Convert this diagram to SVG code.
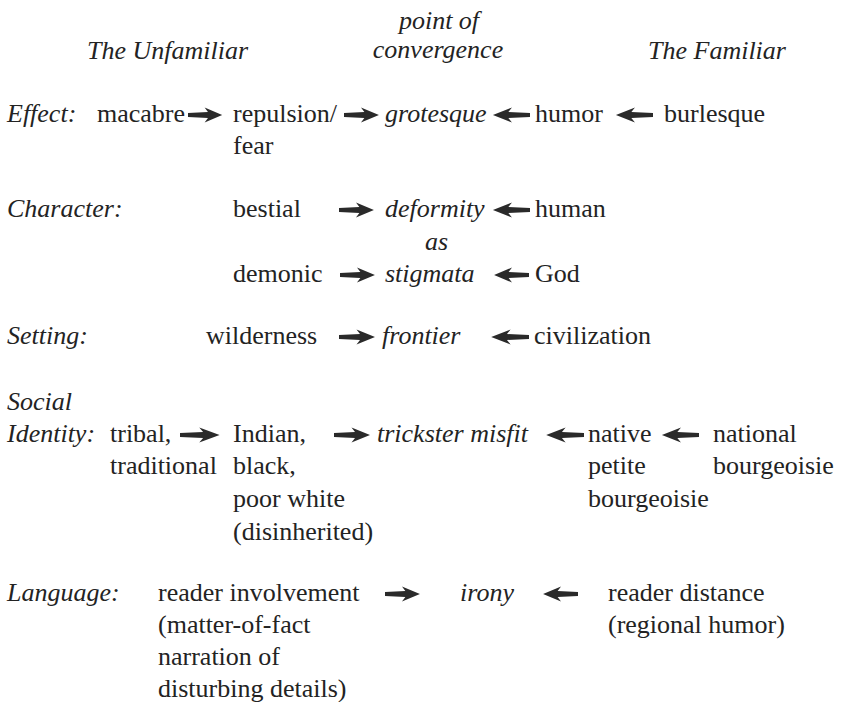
<svg xmlns="http://www.w3.org/2000/svg" xmlns:xlink="http://www.w3.org/1999/xlink" width="845" height="702" viewBox="0 0 845 702">
<style>
text{font-family:'Liberation Serif','DejaVu Serif','Times New Roman',Times,serif;font-size:26px;fill:#232323}
.i{font-style:italic}
.m{text-anchor:middle}
.arw{fill:#2a2a2a}
</style>
<defs>
<path id="ar" class="arw" d="M0,-2 L21,-3 L17.5,-7.5 L36,0 L17.5,7.5 L21,3 L0,2 Z"/>
</defs>
<rect width="845" height="702" fill="#fff"/>
<g font-family="Liberation Serif, DejaVu Serif, serif">
<g id="headers">
<text class="i m" x="439" y="29">point of</text>
<text class="i m" x="438" y="58">convergence</text>
<text class="i" x="87" y="59">The Unfamiliar</text>
<text class="i" x="648" y="59">The Familiar</text>
</g>
<g id="row-effect">
<text class="i" x="7" y="122">Effect:</text>
<g id="n-macabre"><text x="97" y="122">macabre</text></g>
<g id="n-repulsion"><text x="233" y="122">repulsion/</text><text x="233" y="154">fear</text></g>
<g id="n-grotesque"><text class="i" x="385" y="122">grotesque</text></g>
<g id="n-humor"><text x="535" y="122">humor</text></g>
<g id="n-burlesque"><text x="664" y="122">burlesque</text></g>
</g>
<g id="row-character">
<text class="i" x="7" y="217">Character:</text>
<g id="n-bestial"><text x="233" y="217">bestial</text></g>
<g id="n-deformity"><text class="i" x="385" y="217">deformity</text></g>
<g id="n-human"><text x="535" y="217">human</text></g>
<text class="i" x="425" y="250">as</text>
<g id="n-demonic"><text x="233" y="282">demonic</text></g>
<g id="n-stigmata"><text class="i" x="385" y="282">stigmata</text></g>
<g id="n-god"><text x="535" y="282">God</text></g>
</g>
<g id="row-setting">
<text class="i" x="7" y="344">Setting:</text>
<g id="n-wilderness"><text x="206" y="344">wilderness</text></g>
<g id="n-frontier"><text class="i" x="382" y="344">frontier</text></g>
<g id="n-civilization"><text x="534" y="344">civilization</text></g>
</g>
<g id="row-social">
<text class="i" x="7" y="410">Social</text>
<text class="i" x="7" y="442">Identity:</text>
<g id="n-tribal"><text x="110" y="442">tribal,</text><text x="110" y="474">traditional</text></g>
<g id="n-indian"><text x="233" y="442">Indian,</text><text x="233" y="474">black,</text><text x="233" y="507">poor white</text><text x="233" y="540">(disinherited)</text></g>
<g id="n-trickster"><text class="i" x="377" y="442">trickster misfit</text></g>
<g id="n-native"><text x="588" y="442">native</text><text x="588" y="474">petite</text><text x="588" y="507">bourgeoisie</text></g>
<g id="n-national"><text x="713" y="442">national</text><text x="713" y="474">bourgeoisie</text></g>
</g>
<g id="row-language">
<text class="i" x="7" y="601">Language:</text>
<g id="n-involvement"><text x="158" y="601">reader involvement</text><text x="158" y="633">(matter-of-fact</text><text x="158" y="665">narration of</text><text x="158" y="697">disturbing details)</text></g>
<g id="n-irony"><text class="i" x="460" y="601">irony</text></g>
<g id="n-distance"><text x="608" y="601">reader distance</text><text x="608" y="633">(regional humor)</text></g>
</g>
</g>
<g id="connectors">
<use xlink:href="#ar" transform="translate(188,115) scale(0.95,1)"/>
<use xlink:href="#ar" transform="translate(344,115) scale(0.97,1)"/>
<use xlink:href="#ar" transform="translate(530,115) scale(-1.03,1)"/>
<use xlink:href="#ar" transform="translate(653,115) scale(-1.03,1)"/>
<use xlink:href="#ar" transform="translate(339,210) scale(0.97,1)"/>
<use xlink:href="#ar" transform="translate(530,210) scale(-1.03,1)"/>
<use xlink:href="#ar" transform="translate(340,275) scale(0.97,1)"/>
<use xlink:href="#ar" transform="translate(529,275) scale(-0.97,1)"/>
<use xlink:href="#ar" transform="translate(339,337)"/>
<use xlink:href="#ar" transform="translate(529,337) scale(-1.05,1)"/>
<use xlink:href="#ar" transform="translate(180,435) scale(1.1,1)"/>
<use xlink:href="#ar" transform="translate(334,435)"/>
<use xlink:href="#ar" transform="translate(584,435) scale(-1.05,1)"/>
<use xlink:href="#ar" transform="translate(699,435) scale(-1.03,1)"/>
<use xlink:href="#ar" transform="translate(385,594) scale(0.97,1)"/>
<use xlink:href="#ar" transform="translate(578,594) scale(-0.97,1)"/>
</g>
</svg>
